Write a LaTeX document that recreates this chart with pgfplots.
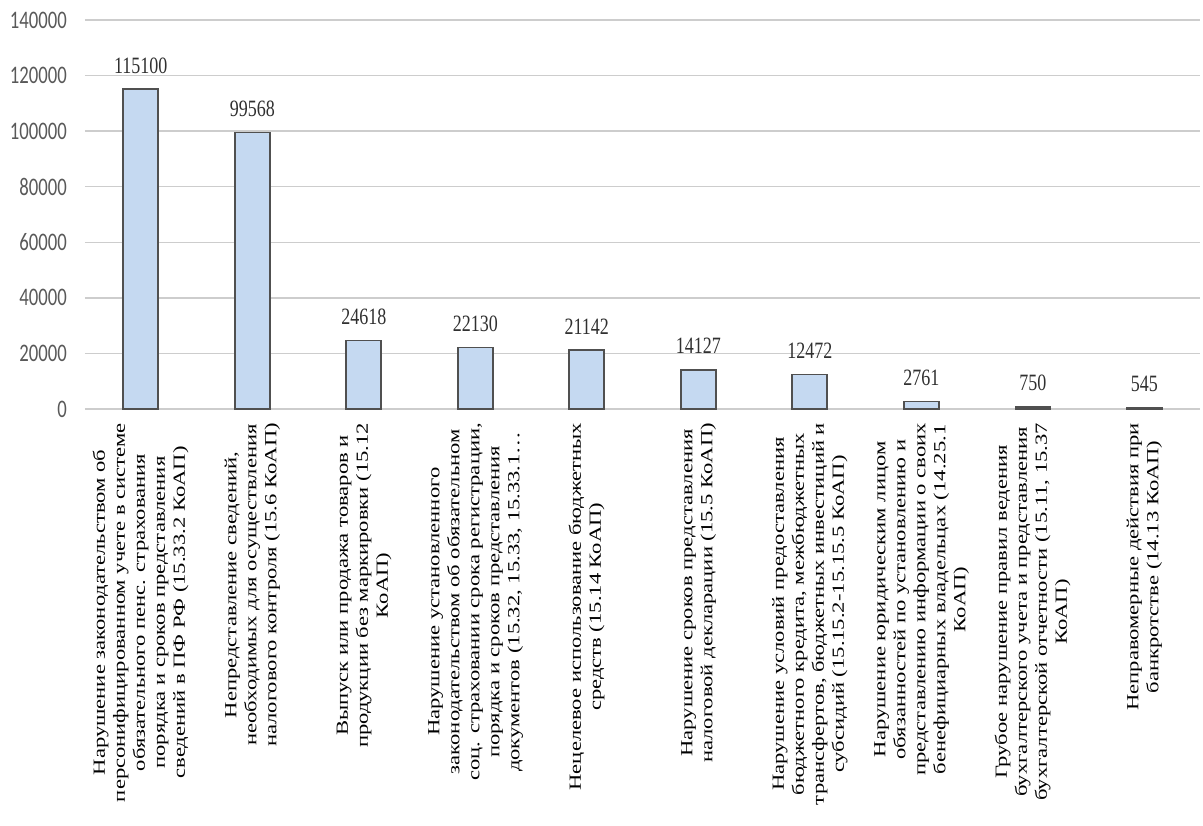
\documentclass[border=0pt]{standalone}
\usepackage{fontspec}
\setmainfont{Liberation Serif}
\newfontfamily\tickfont{Carlito}
\usepackage{pgfplots}
\pgfplotsset{compat=1.18}
\definecolor{barfill}{HTML}{C5D9F1}
\definecolor{barline}{HTML}{505050}
\definecolor{gridc}{HTML}{CDCDCD}
\definecolor{tickc}{HTML}{595959}
\definecolor{valc}{HTML}{303030}
\newcommand{\lab}[1]{\scalebox{1.33}[1]{\fontsize{17bp}{20bp}\selectfont\begin{tabular}{@{}c@{}}#1\end{tabular}}}
\newcommand{\tl}[1]{\scalebox{1}[1.35]{\fontsize{18.7bp}{20bp}\selectfont\tickfont #1}}
\begin{document}
\begin{tikzpicture}
\begin{axis}[
  scale only axis, width=1115bp, height=389bp,
  xmin=-0.5, xmax=9.5, ymin=0, ymax=140000,
  scaled y ticks=false,
  ytick={0,20000,40000,60000,80000,100000,120000,140000},
  yticklabels={\tl{0},\tl{20000},\tl{40000},\tl{60000},\tl{80000},\tl{100000},\tl{120000},\tl{140000}},
  y tick label style={anchor=east, inner sep=0pt, xshift=-18bp, text=tickc},
  xtick={0,...,9},
  xticklabels={
    {\lab{Нарушение  законодательством об\\персонифицированном учете в системе\\обязательного пенс. страхования\\порядка и сроков представления\\сведений в ПФ РФ (15.33.2 КоАП)}},
    {\lab{Непредставление сведений,\\необходимых для осуществления\\налогового контроля (15.6 КоАП)}},
    {\lab{Выпуск или продажа товаров и\\продукции без маркировки (15.12\\КоАП)}},
    {\lab{Нарушение установленного\\законодательством об обязательном\\соц. страховании срока регистрации,\\порядка и сроков представления\\документов (15.32,  15.33,  15.33.1…}},
    {\lab{Нецелевое использование бюджетных\\средств (15.14 КоАП)}},
    {\lab{Нарушение  сроков представления\\налоговой декларации  (15.5 КоАП)}},
    {\lab{Нарушение  условий предоставления\\бюджетного кредита,  межбюджетных\\трансфертов, бюджетных инвестиций и\\субсидий (15.15.2-15.15.5  КоАП)}},
    {\lab{Нарушение юридическим лицом\\обязанностей по установлению и\\представлению информации о своих\\бенефициарных владельцах  (14.25.1\\КоАП)}},
    {\lab{Грубое нарушение правил ведения\\бухгалтерского учета и представления\\бухгалтерской отчетности (15.11,  15.37\\КоАП)}},
    {\lab{Неправомерные действия при\\банкротстве (14.13  КоАП)}}
  },
  x tick label style={rotate=90, anchor=east, inner sep=0pt, outer sep=14bp},
  major tick length=0pt,
  tick style={draw=none},
  axis line style={draw=none},
  ymajorgrids, grid style={gridc, line width=1.3bp},
  ybar, bar width=35bp,
  nodes near coords={\scalebox{1}[1.3]{\fontsize{18bp}{20bp}\selectfont\pgfmathprintnumber[fixed,precision=0,1000 sep={}]{\pgfplotspointmeta}}},
  nodes near coords style={anchor=south, inner sep=0pt, yshift=15bp, text=valc},
  /pgf/number format/assume math mode=true,
  clip=false,
]
\addplot[fill=barfill, draw=barline, line width=1.6bp] coordinates {
  (0,115100) (1,99568) (2,24618) (3,22130) (4,21142)
  (5,14127) (6,12472) (7,2761) (8,750) (9,545)};
\end{axis}
\pgfresetboundingbox
\path[use as bounding box] (-85bp,-417bp) rectangle (1118bp,409bp);
\end{tikzpicture}
\end{document}
